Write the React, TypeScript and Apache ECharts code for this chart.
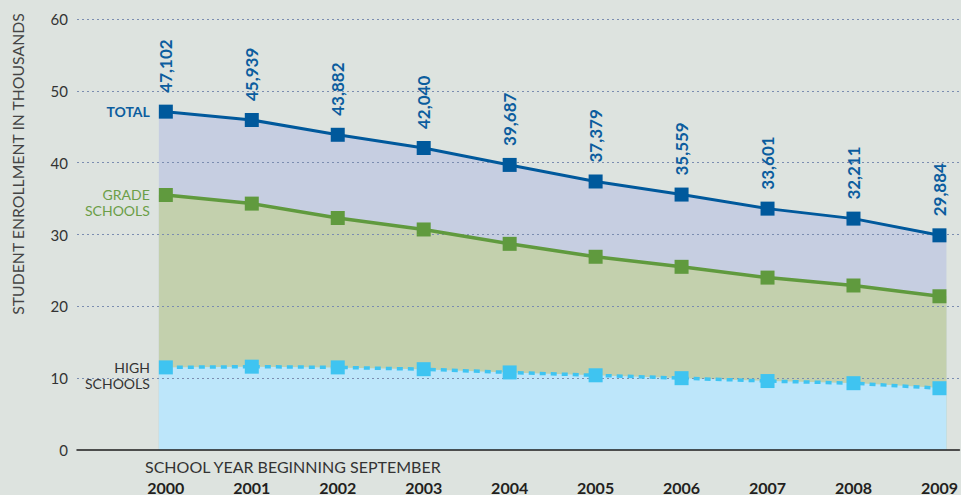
import React, { useEffect, useRef } from "react";
import * as echarts from "echarts";

const years = [2000, 2001, 2002, 2003, 2004, 2005, 2006, 2007, 2008, 2009];
const totalEnrollment = [47102, 45939, 43882, 42040, 39687, 37379, 35559, 33601, 32211, 29884];
const gradeSchools = [35500, 34300, 32300, 30700, 28700, 26900, 25500, 24000, 22900, 21400];
const highSchools = [11500, 11600, 11500, 11250, 10800, 10400, 10000, 9600, 9300, 8600];
const seriesNames = ["TOTAL", "GRADE\nSCHOOLS", "HIGH\nSCHOOLS"];
const yAxisTitle = "STUDENT ENROLLMENT IN THOUSANDS";
const xAxisTitle = "SCHOOL YEAR BEGINNING SEPTEMBER";

const FONT = "Lato";
const BLUE = "#00599c";
const GREEN = "#609a3e";
const CYAN = "#3fc4f1";

const pairs = (vals: number[]) => years.map((y, i) => [y, vals[i]]);
const fmt = (v: number) => Math.round(v).toLocaleString("en-US");

export default function App() {
  const ref = useRef<HTMLDivElement>(null);
  useEffect(() => {
    document.body.style.margin = "0";
    const chart = echarts.init(ref.current!, null, { renderer: "svg" });

    const areaSeries = (name: string, vals: number[], color: string) => ({
      name: name + "-area",
      type: "line",
      xAxisIndex: 1,
      data: pairs(vals),
      showSymbol: false,
      symbol: "none",
      lineStyle: { width: 0 },
      areaStyle: { color, opacity: 1 },
      z: 1,
      silent: true,
    });

    const legendMark = (vals: number[], text: string, color: string, bold: boolean, twoLines: boolean) => ({
      symbol: "rect",
      symbolSize: 0,
      silent: true,
      data: [{ coord: [years[0], vals[0]], value: 0 }],
      label: {
        show: true,
        position: "left",
        distance: 16,
        formatter: text,
        color,
        fontFamily: FONT,
        fontSize: 14,
        fontWeight: bold ? "bold" : "normal",
        lineHeight: 16,
        align: "right",
        offset: twoLines ? [0, 8] : [0, 0],
      },
    });

    chart.setOption({
      animation: false,
      backgroundColor: "#dde3df",
      textStyle: { fontFamily: FONT },
      grid: { left: 77, right: 0, top: 19, bottom: 44 },
      xAxis: [
        {
          type: "value",
          min: 1998.9665,
          max: 2009.2323,
          z: 2,
          splitLine: { show: false },
          axisTick: { show: false },
          axisLine: { lineStyle: { color: "#1d1d1d", width: 1.5 } },
          axisLabel: {
            customValues: years,
            formatter: (v: number) => String(v),
            fontFamily: FONT,
            fontWeight: "bold",
            fontSize: 16,
            color: "#231f20",
            margin: 29,
          },
        },
        { type: "value", min: 1999.0647, max: 2009.148, show: false },
      ],
      yAxis: {
        type: "value",
        min: 0,
        max: 60000,
        interval: 10000,
        z: 2,
        axisLine: { show: false },
        axisTick: { show: false },
        splitLine: { showMinLine: false, lineStyle: { type: [2, 3], color: "#7b8db0", width: 1 } },
        axisLabel: {
          formatter: (v: number) => String(v / 1000),
          fontFamily: FONT,
          fontSize: 15,
          color: "#333333",
          margin: 9,
        },
      },
      graphic: [
        {
          type: "text",
          x: 17,
          y: 164,
          rotation: Math.PI / 2,
          style: {
            text: yAxisTitle,
            fill: "#444444",
            font: `15.8px ${FONT}`,
            textAlign: "center",
            textVerticalAlign: "middle",
          },
        },
        {
          type: "text",
          x: 145,
          y: 466,
          style: {
            text: xAxisTitle,
            fill: "#333333",
            font: `16px ${FONT}`,
            textAlign: "left",
            textVerticalAlign: "middle",
          },
        },
      ],
      series: [
        areaSeries("total", totalEnrollment, "#c6cee1"),
        areaSeries("grade", gradeSchools, "#c3d0ad"),
        areaSeries("high", highSchools, "#bde6fa"),
        {
          name: "TOTAL",
          type: "line",
          data: pairs(totalEnrollment),
          symbol: "rect",
          symbolSize: 14,
          itemStyle: { color: BLUE },
          lineStyle: { color: BLUE, width: 3 },
          z: 3,
          label: {
            show: true,
            position: "top",
            distance: 12,
            rotate: 90,
            align: "left",
            verticalAlign: "middle",
            formatter: (p: any) => fmt(p.value[1]),
            color: "#0b5d9e",
            fontFamily: FONT,
            fontWeight: "bold",
            fontSize: 17,
          },
          markPoint: legendMark(totalEnrollment, seriesNames[0], "#0b5d9e", true, false),
        },
        {
          name: "GRADE SCHOOLS",
          type: "line",
          data: pairs(gradeSchools),
          symbol: "rect",
          symbolSize: 14,
          itemStyle: { color: GREEN },
          lineStyle: { color: GREEN, width: 3.5 },
          z: 3,
          markPoint: legendMark(gradeSchools, seriesNames[1], "#6b9e47", false, true),
        },
        {
          name: "HIGH SCHOOLS",
          type: "line",
          data: pairs(highSchools),
          symbol: "rect",
          symbolSize: 14,
          itemStyle: { color: CYAN },
          lineStyle: { color: CYAN, width: 3.5, type: [6, 5] },
          z: 3,
          markPoint: legendMark(highSchools, seriesNames[2], "#333333", false, true),
        },
      ],
    });
    return () => chart.dispose();
  }, []);
  return <div ref={ref} style={{ width: 961, height: 495 }} />;
}
